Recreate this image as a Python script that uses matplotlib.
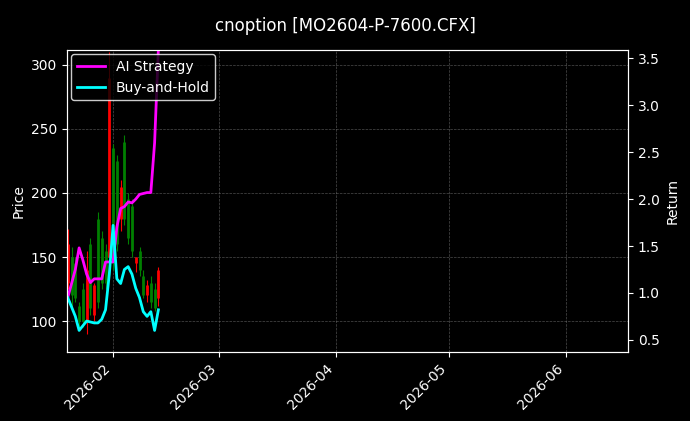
import matplotlib.pyplot as plt
import matplotlib.dates as mdates
import numpy as np
import pandas as pd

dates = pd.date_range("2026-01-20", periods=25, freq="D")
opens  = [160, 120, 118, 100, 100, 140, 110, 128, 115, 130, 130, 290, 145, 160, 205, 180, 165, 155, 150, 140, 120, 128, 115, 110, 140]
closes = [130, 150, 145, 112, 125, 100, 160, 105, 180, 165, 155, 150, 235, 225, 180, 240, 195, 190, 145, 155, 135, 120, 130, 125, 118]
highs  = [172, 158, 150, 115, 130, 155, 165, 130, 185, 170, 160, 310, 238, 230, 210, 245, 200, 195, 150, 158, 140, 132, 135, 130, 142]
lows   = [125, 110, 115,  95,  95,  90, 105, 100, 110, 125, 125, 150, 140, 155, 170, 175, 160, 150, 138, 135, 118, 115, 110, 108, 112]
ai_ret = [0.95, 1.1, 1.25, 1.48, 1.35, 1.2, 1.11, 1.15, 1.15, 1.15, 1.33, 1.33, 1.33, 1.7, 1.9, 1.92,
          1.97, 1.96, 2.0, 2.05, 2.06, 2.07, 2.07, 2.6, 3.6]
bh_ret = [0.95, 0.85, 0.75, 0.6, 0.65, 0.7, 0.69, 0.68, 0.68, 0.72, 0.82, 1.2, 1.72, 1.15, 1.1, 1.25,
          1.28, 1.2, 1.05, 0.95, 0.8, 0.75, 0.8, 0.6, 0.82]

plt.style.use("dark_background")
fig = plt.figure(figsize=(6.9, 4.21), dpi=100)
ax = fig.add_axes([67/690, 69/421, 561/690, 302/421])
ax2 = ax.twinx()

for d, o, c, h, l in zip(dates, opens, closes, highs, lows):
    col = "green" if c >= o else "red"
    ax.vlines(d, l, h, color=col, linewidth=0.8)
    ax.vlines(d, min(o, c), max(o, c), color=col, linewidth=2)

ax2.plot(dates, ai_ret, color="magenta", linewidth=2, label="AI Strategy")
ax2.plot(dates, bh_ret, color="cyan", linewidth=2, label="Buy-and-Hold")

ax.set_xlim(pd.Timestamp("2026-01-19 19:00"), pd.Timestamp("2026-06-17 10:00"))
ax.set_ylim(75.8, 311.7)
ax2.set_ylim(0.37, 3.59)
ax.set_ylabel("Price")
ax2.set_ylabel("Return")
ax.xaxis.set_major_locator(mdates.MonthLocator())
ax.xaxis.set_major_formatter(mdates.DateFormatter("%Y-%m"))
plt.setp(ax.get_xticklabels(), rotation=45, ha="right")
ax.grid(True, color="gray", linestyle="--", linewidth=0.5, alpha=0.6)
ax2.legend(loc="upper left", facecolor="black", edgecolor="white",
           borderaxespad=0.3)
fig.suptitle("cnoption [MO2604-P-7600.CFX]", y=0.96)
fig.savefig("out.png", dpi=100)
